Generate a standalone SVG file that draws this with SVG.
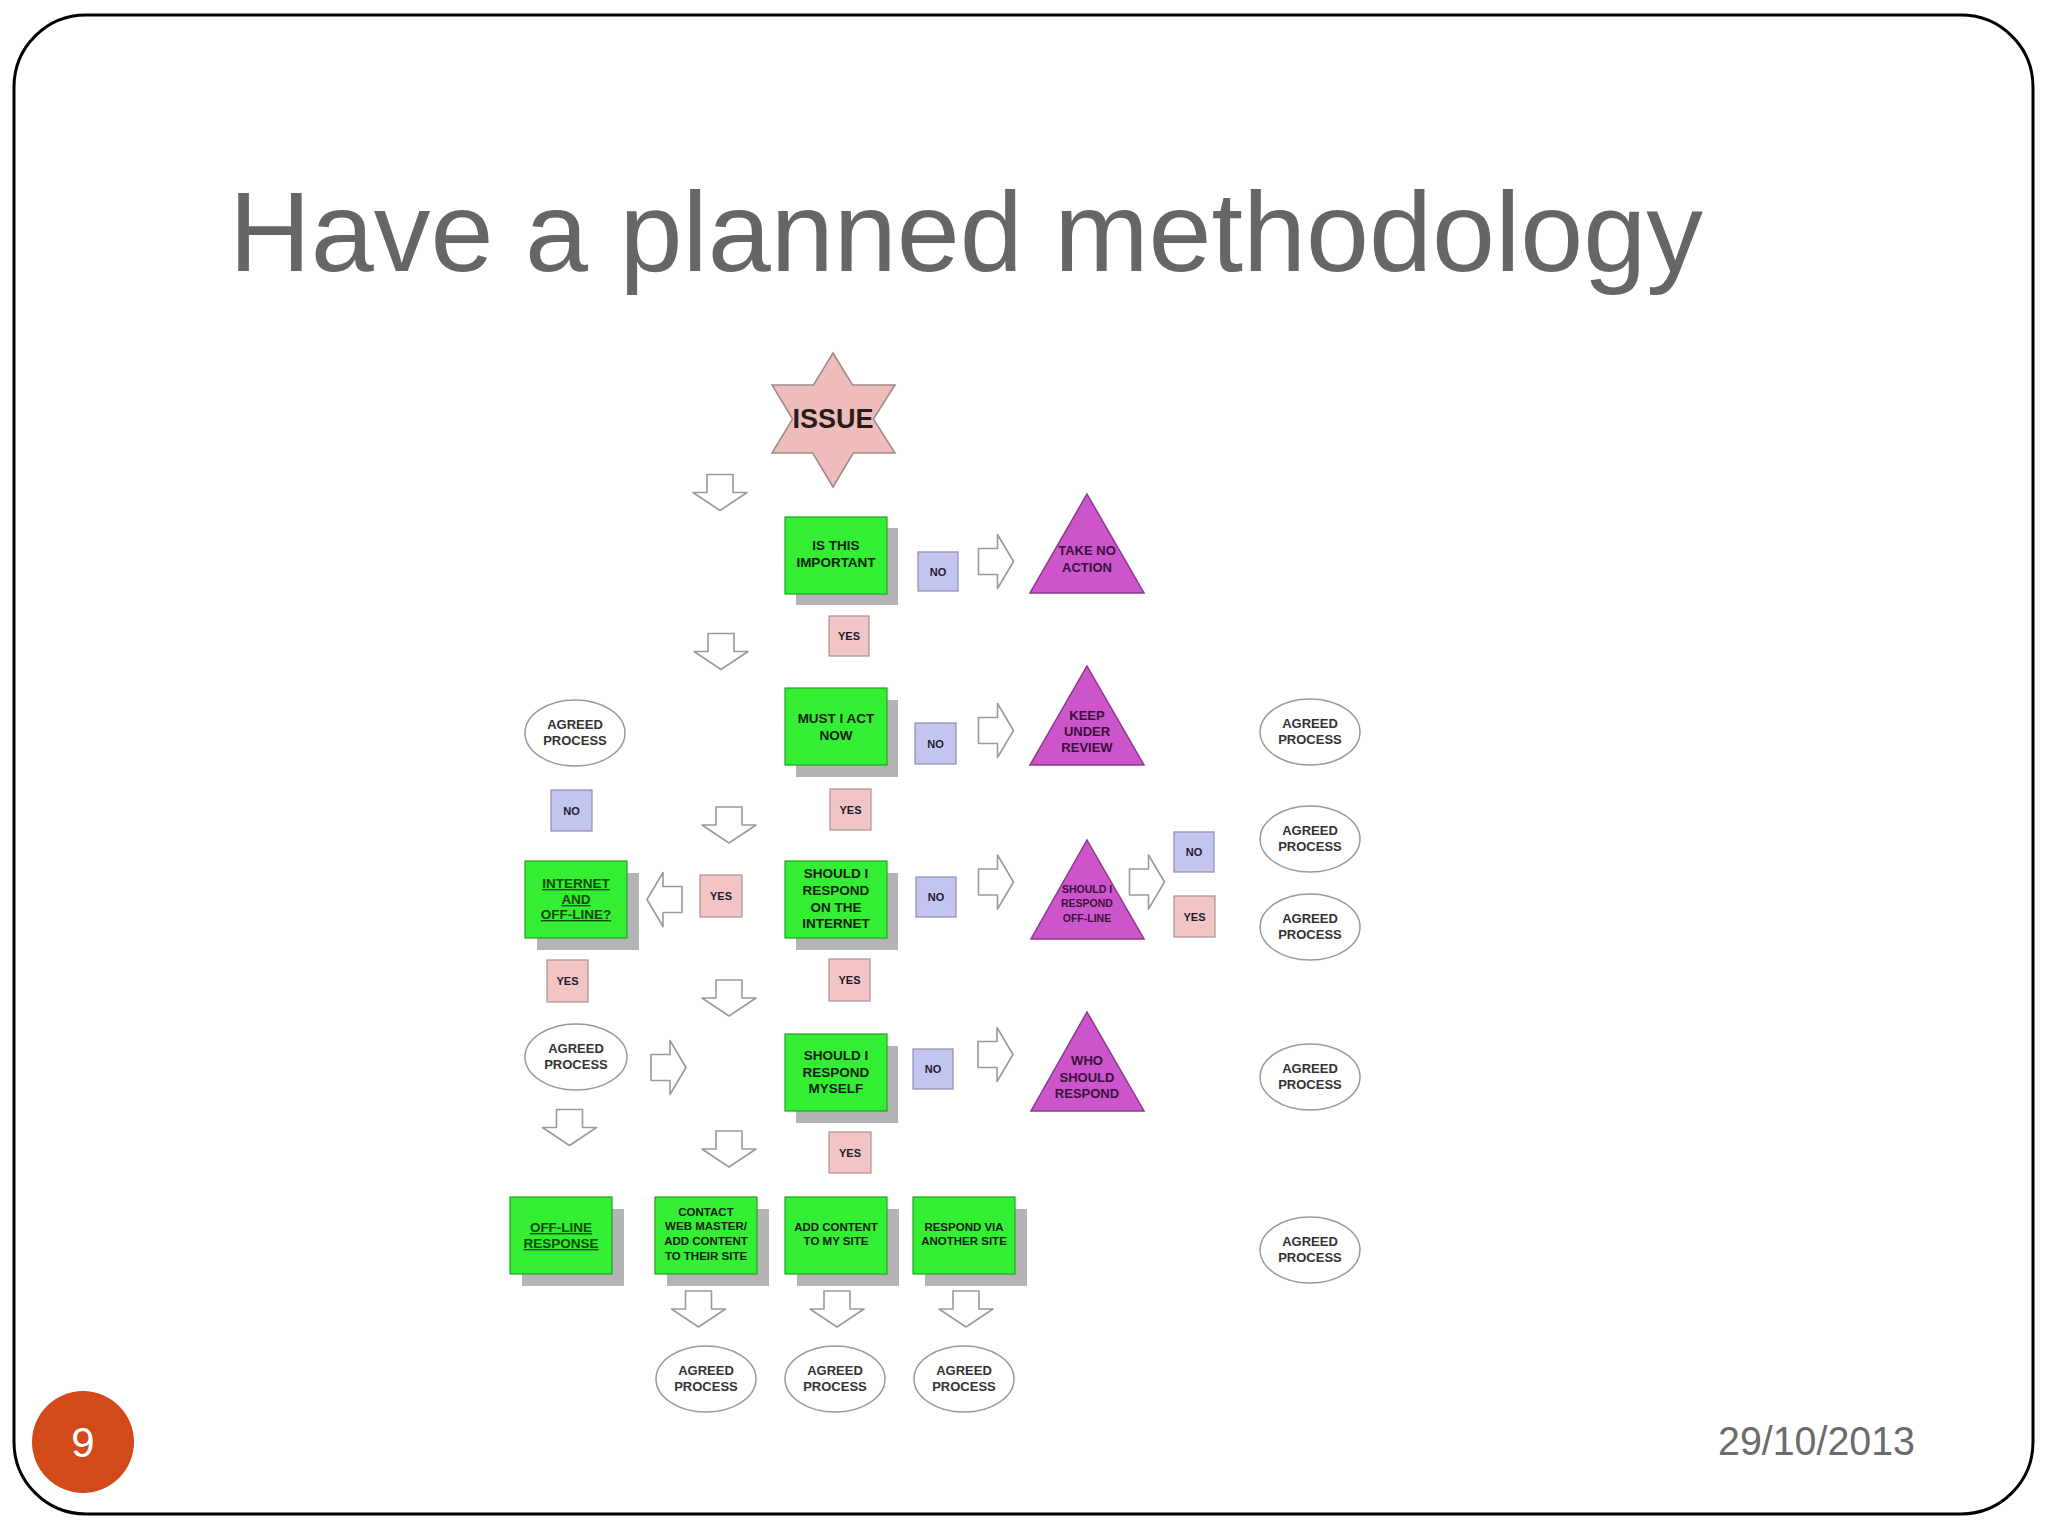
<svg xmlns="http://www.w3.org/2000/svg" xmlns:xlink="http://www.w3.org/1999/xlink" width="2048" height="1536" viewBox="0 0 2048 1536">
<style>
.frame{fill:#fff;stroke:#000;stroke-width:3}
.title{font-family:"Liberation Sans",Arial,sans-serif;font-size:113px;fill:#666}
.date{font-family:"Liberation Sans",Arial,sans-serif;font-size:41px;fill:#6b6b6b}
.pnum{font-family:"Liberation Sans",Arial,sans-serif;font-size:42px;fill:#fff;text-anchor:middle}
.shadow{fill:#b4b4b4}
.box{fill:#33ee33;stroke:#22a022;stroke-width:1.2}
.bt{font-family:"Liberation Sans",Arial,sans-serif;font-weight:bold;font-size:13.5px;fill:#0f1f0f;text-anchor:middle}
.bts{font-family:"Liberation Sans",Arial,sans-serif;font-weight:bold;font-size:11.5px;fill:#0f1f0f;text-anchor:middle}
.ul{text-decoration:underline;fill:#0b4a0b}
.no{fill:#c4c4f0;stroke:#8c8cac;stroke-width:1.2}
.yes{fill:#f2c4c4;stroke:#ac9090;stroke-width:1.2}
.lt{font-family:"Liberation Sans",Arial,sans-serif;font-weight:bold;font-size:11px;fill:#1c1c30;text-anchor:middle}
.tri{fill:#cc55cc;stroke:#8a3a8a;stroke-width:1.5}
.tt{font-family:"Liberation Sans",Arial,sans-serif;font-weight:bold;font-size:13px;fill:#3a103a;text-anchor:middle}
.tts{font-family:"Liberation Sans",Arial,sans-serif;font-weight:bold;font-size:10.5px;fill:#3a103a;text-anchor:middle}
.ell{fill:#fff;stroke:#9a9a9a;stroke-width:1.5}
.et{font-family:"Liberation Sans",Arial,sans-serif;font-weight:bold;font-size:13px;fill:#333;text-anchor:middle}
.star{fill:#efbcbc;stroke:#a08888;stroke-width:1.5}
.st{font-family:"Liberation Sans",Arial,sans-serif;font-weight:bold;font-size:27px;fill:#2a1a1a;text-anchor:middle}
.arr{fill:#fff;stroke:#9a9a9a;stroke-width:1.6;stroke-linejoin:round}
</style>
<defs>
<path id="darr" d="M-13,-18 H13 V0 H27 L0,18 L-27,0 H-13 Z"/>
<path id="rarr" d="M-17,-13 H2 V-27 L18,0 L2,27 V13 H-17 Z"/>
<path id="larr" d="M17,-13 H-2 V-27 L-18,0 L-2,27 V13 H17 Z"/>
</defs>
<rect class="frame" x="14" y="15" width="2019" height="1499" rx="72" ry="72"/>
<text class="title" x="229" y="271" textLength="1474" lengthAdjust="spacingAndGlyphs">Have a planned methodology</text>

<g id="connectors">
<use xlink:href="#darr" class="arr" x="720" y="492.5"/>
<use xlink:href="#darr" class="arr" x="721" y="651.5"/>
<use xlink:href="#darr" class="arr" x="729" y="825"/>
<use xlink:href="#darr" class="arr" x="729" y="998"/>
<use xlink:href="#darr" class="arr" x="569.5" y="1127.5"/>
<use xlink:href="#darr" class="arr" x="729" y="1149"/>
<use xlink:href="#darr" class="arr" x="698.5" y="1309"/>
<use xlink:href="#darr" class="arr" x="837" y="1309"/>
<use xlink:href="#darr" class="arr" x="966" y="1309"/>
<use xlink:href="#rarr" class="arr" x="995.5" y="561.5"/>
<use xlink:href="#rarr" class="arr" x="995.5" y="730.5"/>
<use xlink:href="#rarr" class="arr" x="995.5" y="882"/>
<use xlink:href="#rarr" class="arr" x="1146.5" y="882"/>
<use xlink:href="#rarr" class="arr" x="668" y="1067.5"/>
<use xlink:href="#rarr" class="arr" x="995" y="1054.5"/>
<use xlink:href="#larr" class="arr" x="665" y="899.5"/>
</g>

<g id="issue">
<polygon class="star" points="833,353 852.5,385 895,385 873.4,419 895,453 853.3,453 833,487 812.7,453 772,453 792.6,419 772,385 813.5,385"/>
<text class="st" x="833" y="428">ISSUE</text>
</g>

<g id="box-important">
<rect class="shadow" x="796" y="528" width="102" height="77"/>
<rect class="box" x="785" y="517" width="102" height="77"/>
<text class="bt" x="836" y="550">IS THIS</text>
<text class="bt" x="836" y="567">IMPORTANT</text>
</g>
<g id="no-1"><rect class="no" x="918" y="552" width="40" height="39"/><text class="lt" x="938" y="575.5">NO</text></g>
<g id="tri-take-no-action">
<polygon class="tri" points="1087,494 1144,593 1030,593"/>
<text class="tt" x="1087" y="555">TAKE NO</text>
<text class="tt" x="1087" y="572">ACTION</text>
</g>
<g id="yes-1"><rect class="yes" x="829" y="616" width="40" height="40"/><text class="lt" x="849" y="640">YES</text></g>

<g id="box-must-act">
<rect class="shadow" x="796" y="700" width="102" height="77"/>
<rect class="box" x="785" y="688" width="102" height="77"/>
<text class="bt" x="836" y="723">MUST I ACT</text>
<text class="bt" x="836" y="740">NOW</text>
</g>
<g id="no-2"><rect class="no" x="915" y="723" width="41" height="41"/><text class="lt" x="935.5" y="747.5">NO</text></g>
<g id="tri-keep-under-review">
<polygon class="tri" points="1087,666 1144,765 1030,765"/>
<text class="tt" x="1087" y="720">KEEP</text>
<text class="tt" x="1087" y="736">UNDER</text>
<text class="tt" x="1087" y="752">REVIEW</text>
</g>
<g id="ell-left-1"><ellipse class="ell" cx="575" cy="733" rx="50" ry="33"/><text class="et" x="575" y="728.5">AGREED</text><text class="et" x="575" y="745">PROCESS</text></g>
<g id="no-left"><rect class="no" x="551" y="790" width="41" height="41"/><text class="lt" x="571.5" y="814.5">NO</text></g>
<g id="yes-2"><rect class="yes" x="830" y="789" width="41" height="41"/><text class="lt" x="850.5" y="813.5">YES</text></g>

<g id="box-internet-offline">
<rect class="shadow" x="537" y="873" width="102" height="77"/>
<rect class="box" x="525" y="861" width="102" height="77"/>
<text class="bt ul" x="576" y="888">INTERNET</text>
<text class="bt ul" x="576" y="904">AND</text>
<text class="bt ul" x="576" y="919">OFF-LINE?</text>
</g>
<g id="yes-mid"><rect class="yes" x="700" y="875" width="42" height="42"/><text class="lt" x="721" y="900">YES</text></g>
<g id="box-respond-internet">
<rect class="shadow" x="796" y="873" width="102" height="77"/>
<rect class="box" x="785" y="861" width="102" height="77"/>
<text class="bt" x="836" y="878">SHOULD I</text>
<text class="bt" x="836" y="895">RESPOND</text>
<text class="bt" x="836" y="912">ON THE</text>
<text class="bt" x="836" y="928">INTERNET</text>
</g>
<g id="no-3"><rect class="no" x="916" y="877" width="40" height="40"/><text class="lt" x="936" y="901">NO</text></g>
<g id="tri-respond-offline">
<polygon class="tri" points="1087,840 1144,939 1031,939"/>
<text class="tts" x="1087" y="893">SHOULD I</text>
<text class="tts" x="1087" y="907">RESPOND</text>
<text class="tts" x="1087" y="922">OFF-LINE</text>
</g>
<g id="no-right"><rect class="no" x="1174" y="832" width="40" height="40"/><text class="lt" x="1194" y="856">NO</text></g>
<g id="yes-right"><rect class="yes" x="1174" y="896" width="41" height="41"/><text class="lt" x="1194.5" y="920.5">YES</text></g>
<g id="yes-left"><rect class="yes" x="547" y="960" width="41" height="42"/><text class="lt" x="567.5" y="985">YES</text></g>
<g id="yes-3"><rect class="yes" x="829" y="959" width="41" height="42"/><text class="lt" x="849.5" y="984">YES</text></g>

<g id="ell-left-2"><ellipse class="ell" cx="576" cy="1057" rx="51" ry="33"/><text class="et" x="576" y="1052.5">AGREED</text><text class="et" x="576" y="1069">PROCESS</text></g>
<g id="box-respond-myself">
<rect class="shadow" x="796" y="1046" width="102" height="77"/>
<rect class="box" x="785" y="1034" width="102" height="77"/>
<text class="bt" x="836" y="1060">SHOULD I</text>
<text class="bt" x="836" y="1077">RESPOND</text>
<text class="bt" x="836" y="1093">MYSELF</text>
</g>
<g id="no-4"><rect class="no" x="913" y="1049" width="40" height="40"/><text class="lt" x="933" y="1073">NO</text></g>
<g id="tri-who-should-respond">
<polygon class="tri" points="1087,1012 1144,1111 1031,1111"/>
<text class="tt" x="1087" y="1065">WHO</text>
<text class="tt" x="1087" y="1082">SHOULD</text>
<text class="tt" x="1087" y="1098">RESPOND</text>
</g>
<g id="yes-4"><rect class="yes" x="829" y="1132" width="42" height="41"/><text class="lt" x="850" y="1156.5">YES</text></g>

<g id="box-offline-response">
<rect class="shadow" x="522" y="1209" width="102" height="77"/>
<rect class="box" x="510" y="1197" width="102" height="77"/>
<text class="bt ul" x="561" y="1232">OFF-LINE</text>
<text class="bt ul" x="561" y="1248">RESPONSE</text>
</g>
<g id="box-contact">
<rect class="shadow" x="667" y="1209" width="102" height="77"/>
<rect class="box" x="655" y="1197" width="102" height="77"/>
<text class="bts" x="706" y="1216">CONTACT</text>
<text class="bts" x="706" y="1230">WEB MASTER/</text>
<text class="bts" x="706" y="1245">ADD CONTENT</text>
<text class="bts" x="706" y="1260">TO THEIR SITE</text>
</g>
<g id="box-add-content">
<rect class="shadow" x="797" y="1209" width="102" height="77"/>
<rect class="box" x="785" y="1197" width="102" height="77"/>
<text class="bts" x="836" y="1231">ADD CONTENT</text>
<text class="bts" x="836" y="1245">TO MY SITE</text>
</g>
<g id="box-respond-via">
<rect class="shadow" x="925" y="1209" width="102" height="77"/>
<rect class="box" x="913" y="1197" width="102" height="77"/>
<text class="bts" x="964" y="1231">RESPOND VIA</text>
<text class="bts" x="964" y="1245">ANOTHER SITE</text>
</g>

<g id="ell-right-1"><ellipse class="ell" cx="1310" cy="732" rx="50" ry="33"/><text class="et" x="1310" y="727.5">AGREED</text><text class="et" x="1310" y="744">PROCESS</text></g>
<g id="ell-right-2"><ellipse class="ell" cx="1310" cy="839" rx="50" ry="33"/><text class="et" x="1310" y="834.5">AGREED</text><text class="et" x="1310" y="851">PROCESS</text></g>
<g id="ell-right-3"><ellipse class="ell" cx="1310" cy="927" rx="50" ry="33"/><text class="et" x="1310" y="922.5">AGREED</text><text class="et" x="1310" y="939">PROCESS</text></g>
<g id="ell-right-4"><ellipse class="ell" cx="1310" cy="1077" rx="50" ry="33"/><text class="et" x="1310" y="1072.5">AGREED</text><text class="et" x="1310" y="1089">PROCESS</text></g>
<g id="ell-right-5"><ellipse class="ell" cx="1310" cy="1250" rx="50" ry="33"/><text class="et" x="1310" y="1245.5">AGREED</text><text class="et" x="1310" y="1262">PROCESS</text></g>
<g id="ell-bottom-1"><ellipse class="ell" cx="706" cy="1379" rx="50" ry="33"/><text class="et" x="706" y="1374.5">AGREED</text><text class="et" x="706" y="1391">PROCESS</text></g>
<g id="ell-bottom-2"><ellipse class="ell" cx="835" cy="1379" rx="50" ry="33"/><text class="et" x="835" y="1374.5">AGREED</text><text class="et" x="835" y="1391">PROCESS</text></g>
<g id="ell-bottom-3"><ellipse class="ell" cx="964" cy="1379" rx="50" ry="33"/><text class="et" x="964" y="1374.5">AGREED</text><text class="et" x="964" y="1391">PROCESS</text></g>

<g id="page-number">
<circle cx="83" cy="1442" r="51" fill="#d24a1a"/>
<text class="pnum" x="83" y="1457">9</text>
</g>
<text class="date" x="1718" y="1455" textLength="197" lengthAdjust="spacingAndGlyphs">29/10/2013</text>
</svg>
